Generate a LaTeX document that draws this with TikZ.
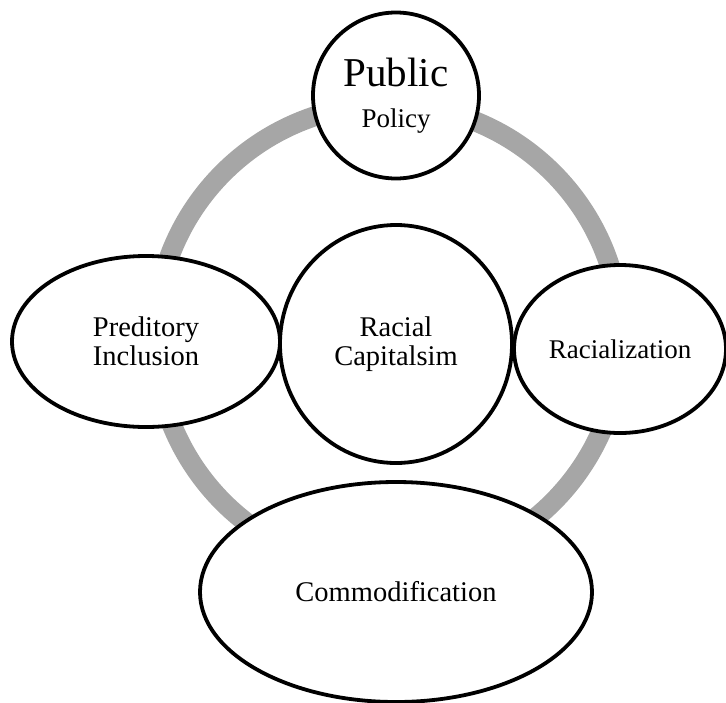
\documentclass[tikz,border=0pt]{standalone}
\usepackage{fontspec}
\setmainfont{Liberation Serif}
\usetikzlibrary{shapes.geometric}
\begin{document}
\begin{tikzpicture}[x=1pt,y=-1pt,
  ring/.style={draw=black!35, line width=20pt},
  blob/.style={ellipse, draw=black, fill=white, line width=3.8pt,
    inner sep=0pt, align=center, font=\fontsize{28.5}{29}\selectfont},
]
\useasboundingbox (0,0) rectangle (726,702);
% the gray cycle behind the concepts
\draw[ring] (388,337.5) circle (233);
% concept bubbles
\node[blob, minimum width=166pt, minimum height=166pt,
      font=\fontsize{27}{41}\selectfont] (policy) at (396,95.5)
  {{\fontsize{41}{41}\selectfont Public}\\Policy};
\node[blob, minimum width=268pt, minimum height=171pt] (pred) at (146,341.5)
  {Preditory\\Inclusion};
\node[blob, minimum width=232pt, minimum height=238pt] (core) at (396,344)
  {Racial\\Capitalsim};
\node[blob, minimum width=212pt, minimum height=168pt,
      font=\fontsize{27}{29}\selectfont] (race) at (620,349)
  {Racialization};
\node[blob, minimum width=392pt, minimum height=220pt] (comm) at (396,592)
  {Commodification};
\end{tikzpicture}
\end{document}
